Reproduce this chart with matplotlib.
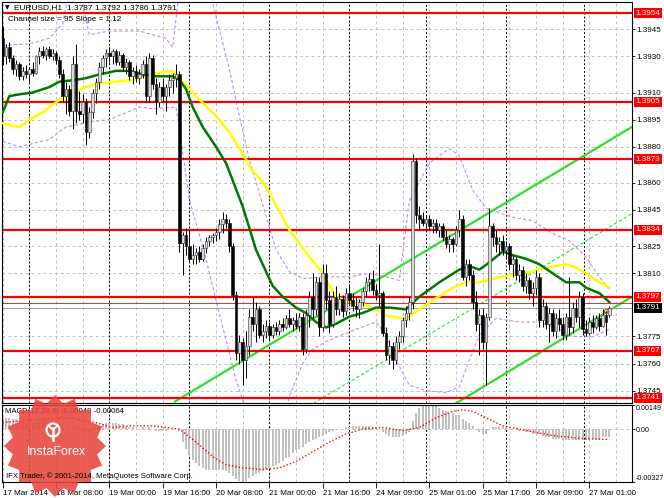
import numpy as np
import matplotlib
matplotlib.use("Agg")
import matplotlib.pyplot as plt
import matplotlib.transforms as mtransforms
from matplotlib.patches import Polygon, Circle

plt.rcParams['font.family'] = ['Liberation Sans', 'DejaVu Sans']

# EURUSD H1, bar 0 = 17 Mar 2014 (one bar per hour)
opens = [1.3940, 1.3930, 1.3935, 1.3929, 1.3923, 1.3926, 1.3919, 1.3922, 1.3920, 1.3923,
         1.3921, 1.3930, 1.3933, 1.3931, 1.3934, 1.3930, 1.3932, 1.3928, 1.3920, 1.3908,
         1.3912, 1.3900, 1.3926, 1.3900, 1.3898, 1.3905, 1.3888, 1.3899, 1.3910, 1.3916,
         1.3924, 1.3929, 1.3932, 1.3930, 1.3933, 1.3927, 1.3931, 1.3924, 1.3927, 1.3919,
         1.3922, 1.3918, 1.3920, 1.3926, 1.3908, 1.3929, 1.3915, 1.3905, 1.3913, 1.3908,
         1.3913, 1.3917, 1.3918, 1.3920, 1.3827, 1.3831, 1.3825, 1.3818, 1.3820, 1.3822,
         1.3818, 1.3824, 1.3828, 1.3830, 1.3831, 1.3833, 1.3837, 1.3840, 1.3838, 1.3825,
         1.3798, 1.3766, 1.3772, 1.3762, 1.3770, 1.3786, 1.3782, 1.3790, 1.3776, 1.3778,
         1.3781, 1.3776, 1.3780, 1.3778, 1.3782, 1.3780, 1.3785, 1.3782, 1.3784, 1.3781,
         1.3786, 1.3768, 1.3787, 1.3797, 1.3790, 1.3805, 1.3780, 1.3810, 1.3795, 1.3782,
         1.3797, 1.3790, 1.3796, 1.3789, 1.3799, 1.3795, 1.3792, 1.3790, 1.3794, 1.3800,
         1.3805, 1.3807, 1.3801, 1.3798, 1.3799, 1.3777, 1.3765, 1.3770, 1.3762, 1.3772,
         1.3775, 1.3784, 1.3788, 1.3794, 1.3872, 1.3842, 1.3840, 1.3838, 1.3840, 1.3836,
         1.3838, 1.3834, 1.3836, 1.3830, 1.3826, 1.3829, 1.3826, 1.3834, 1.3840, 1.3808,
         1.3815, 1.3809, 1.3794, 1.3782, 1.3787, 1.3772, 1.3786, 1.3836, 1.3830, 1.3826,
         1.3828, 1.3823, 1.3825, 1.3815, 1.3818, 1.3809, 1.3812, 1.3803, 1.3806, 1.3799,
         1.3802, 1.3808, 1.3784, 1.3792, 1.3782, 1.3788, 1.3778, 1.3785, 1.3782, 1.3776,
         1.3786, 1.3780, 1.3791, 1.3786, 1.3797, 1.3779, 1.3777, 1.3783, 1.3780, 1.3785,
         1.3781, 1.3787, 1.3787]
highs = [1.3947, 1.3937, 1.3938, 1.3931, 1.3928, 1.3927, 1.3924, 1.3925, 1.3924, 1.3927,
         1.3931, 1.3935, 1.3936, 1.3935, 1.3936, 1.3934, 1.3933, 1.3930, 1.3923, 1.3916,
         1.3914, 1.3930, 1.3937, 1.3911, 1.3909, 1.3907, 1.3902, 1.3912, 1.3918, 1.3927,
         1.3931, 1.3934, 1.3935, 1.3934, 1.3934, 1.3933, 1.3932, 1.3929, 1.3928, 1.3924,
         1.3925, 1.3923, 1.3928, 1.3930, 1.3932, 1.3931, 1.3918, 1.3916, 1.3918, 1.3915,
         1.3920, 1.3921, 1.3926, 1.3922, 1.3833, 1.3835, 1.3834, 1.3826, 1.3824, 1.3825,
         1.3826, 1.3830, 1.3831, 1.3832, 1.3835, 1.3840, 1.3844, 1.3843, 1.3840, 1.3827,
         1.3800, 1.3776, 1.3774, 1.3778, 1.3790, 1.3797, 1.3794, 1.3792, 1.3782, 1.3784,
         1.3783, 1.3782, 1.3783, 1.3784, 1.3785, 1.3787, 1.3790, 1.3786, 1.3788, 1.3788,
         1.3788, 1.3790, 1.3800, 1.3810, 1.3808, 1.3808, 1.3815, 1.3815, 1.3800, 1.3800,
         1.3803, 1.3799, 1.3798, 1.3802, 1.3804, 1.3799, 1.3797, 1.3796, 1.3802, 1.3808,
         1.3810, 1.3812, 1.3804, 1.3826, 1.3800, 1.3780, 1.3773, 1.3772, 1.3775, 1.3778,
         1.3786, 1.3792, 1.3797, 1.3876, 1.3874, 1.3847, 1.3844, 1.3842, 1.3842, 1.3840,
         1.3840, 1.3838, 1.3838, 1.3834, 1.3831, 1.3830, 1.3836, 1.3845, 1.3842, 1.3818,
         1.3818, 1.3812, 1.3800, 1.3790, 1.3791, 1.3788, 1.3846, 1.3838, 1.3834, 1.3830,
         1.3831, 1.3828, 1.3827, 1.3820, 1.3819, 1.3815, 1.3814, 1.3810, 1.3808, 1.3805,
         1.3812, 1.3810, 1.3796, 1.3794, 1.3791, 1.3790, 1.3788, 1.3790, 1.3786, 1.3788,
         1.3808, 1.3794, 1.3796, 1.3800, 1.3799, 1.3784, 1.3786, 1.3787, 1.3787, 1.3788,
         1.3790, 1.3789, 1.3792]
lows = [1.3925, 1.3926, 1.3927, 1.3920, 1.3919, 1.3917, 1.3917, 1.3918, 1.3916, 1.3919,
        1.3920, 1.3926, 1.3929, 1.3928, 1.3929, 1.3928, 1.3926, 1.3918, 1.3905, 1.3898,
        1.3897, 1.3890, 1.3893, 1.3895, 1.3893, 1.3881, 1.3885, 1.3896, 1.3904, 1.3912,
        1.3920, 1.3924, 1.3927, 1.3926, 1.3925, 1.3925, 1.3922, 1.3920, 1.3917, 1.3915,
        1.3916, 1.3915, 1.3918, 1.3905, 1.3905, 1.3912, 1.3898, 1.3902, 1.3905, 1.3900,
        1.3908, 1.3910, 1.3913, 1.3822, 1.3809, 1.3820, 1.3816, 1.3815, 1.3815, 1.3816,
        1.3817, 1.3821, 1.3825, 1.3827, 1.3828, 1.3829, 1.3832, 1.3835, 1.3822, 1.3795,
        1.3762, 1.3760, 1.3748, 1.3752, 1.3765, 1.3778, 1.3772, 1.3774, 1.3772, 1.3774,
        1.3773, 1.3774, 1.3776, 1.3776, 1.3778, 1.3779, 1.3780, 1.3778, 1.3779, 1.3778,
        1.3765, 1.3766, 1.3780, 1.3785, 1.3787, 1.3775, 1.3778, 1.3790, 1.3777, 1.3780,
        1.3787, 1.3787, 1.3786, 1.3787, 1.3793, 1.3789, 1.3786, 1.3785, 1.3792, 1.3797,
        1.3800, 1.3798, 1.3795, 1.3792, 1.3775, 1.3762, 1.3760, 1.3757, 1.3760, 1.3768,
        1.3772, 1.3780, 1.3784, 1.3790, 1.3838, 1.3834, 1.3836, 1.3834, 1.3834, 1.3832,
        1.3832, 1.3830, 1.3828, 1.3824, 1.3822, 1.3822, 1.3825, 1.3830, 1.3806, 1.3803,
        1.3806, 1.3790, 1.3778, 1.3765, 1.3768, 1.3748, 1.3784, 1.3825, 1.3822, 1.3820,
        1.3820, 1.3818, 1.3812, 1.3808, 1.3806, 1.3805, 1.3800, 1.3799, 1.3796, 1.3792,
        1.3798, 1.3780, 1.3780, 1.3779, 1.3772, 1.3775, 1.3774, 1.3778, 1.3773, 1.3773,
        1.3776, 1.3777, 1.3783, 1.3780, 1.3776, 1.3775, 1.3776, 1.3777, 1.3779, 1.3778,
        1.3780, 1.3776, 1.3786]
closes = [1.3930, 1.3935, 1.3929, 1.3923, 1.3926, 1.3919, 1.3922, 1.3920, 1.3923, 1.3921,
          1.3930, 1.3933, 1.3931, 1.3934, 1.3930, 1.3932, 1.3928, 1.3920, 1.3908, 1.3912,
          1.3900, 1.3926, 1.3900, 1.3898, 1.3905, 1.3888, 1.3899, 1.3910, 1.3916, 1.3924,
          1.3929, 1.3932, 1.3930, 1.3933, 1.3927, 1.3931, 1.3924, 1.3927, 1.3919, 1.3922,
          1.3918, 1.3920, 1.3926, 1.3908, 1.3929, 1.3915, 1.3905, 1.3913, 1.3908, 1.3913,
          1.3917, 1.3918, 1.3920, 1.3827, 1.3831, 1.3825, 1.3818, 1.3820, 1.3822, 1.3818,
          1.3824, 1.3828, 1.3830, 1.3831, 1.3833, 1.3837, 1.3840, 1.3838, 1.3825, 1.3798,
          1.3766, 1.3772, 1.3762, 1.3770, 1.3786, 1.3782, 1.3790, 1.3776, 1.3778, 1.3781,
          1.3776, 1.3780, 1.3778, 1.3782, 1.3780, 1.3785, 1.3782, 1.3784, 1.3781, 1.3786,
          1.3768, 1.3787, 1.3797, 1.3790, 1.3805, 1.3780, 1.3810, 1.3795, 1.3782, 1.3797,
          1.3790, 1.3796, 1.3789, 1.3799, 1.3795, 1.3792, 1.3790, 1.3794, 1.3800, 1.3805,
          1.3807, 1.3801, 1.3798, 1.3799, 1.3777, 1.3765, 1.3770, 1.3762, 1.3772, 1.3775,
          1.3784, 1.3788, 1.3794, 1.3872, 1.3842, 1.3840, 1.3838, 1.3840, 1.3836, 1.3838,
          1.3834, 1.3836, 1.3830, 1.3826, 1.3829, 1.3826, 1.3834, 1.3840, 1.3808, 1.3815,
          1.3809, 1.3794, 1.3782, 1.3787, 1.3772, 1.3786, 1.3836, 1.3830, 1.3826, 1.3828,
          1.3823, 1.3825, 1.3815, 1.3818, 1.3809, 1.3812, 1.3803, 1.3806, 1.3799, 1.3802,
          1.3808, 1.3784, 1.3792, 1.3782, 1.3788, 1.3778, 1.3785, 1.3782, 1.3776, 1.3786,
          1.3780, 1.3791, 1.3786, 1.3797, 1.3779, 1.3777, 1.3783, 1.3780, 1.3785, 1.3781,
          1.3787, 1.3783, 1.3791]

# moving averages (bar, price)
ma_green_x = [0, 2, 5, 9, 14, 17, 22, 25, 29, 34, 38, 42, 46, 51, 53, 55, 57, 60, 64, 67,
              72, 76, 81, 84, 88, 91, 94, 97, 100, 104, 108, 112, 116, 121, 125, 131, 137,
              140, 143, 146, 150, 153, 157, 161, 165, 169, 173, 175, 179, 182]
ma_green_y = [1.3899, 1.3908, 1.3909, 1.3910, 1.3913, 1.3916, 1.3917, 1.3918, 1.3920, 1.3922,
              1.3922, 1.3920, 1.3919, 1.3919, 1.3917, 1.3912, 1.3902, 1.3891, 1.3880, 1.3871,
              1.3847, 1.3823, 1.3803, 1.3797, 1.3791, 1.3788, 1.3783, 1.3780, 1.3782, 1.3786,
              1.3788, 1.3791, 1.3791, 1.3790, 1.3797, 1.3805, 1.3812, 1.3814, 1.3812, 1.3816,
              1.3822, 1.3820, 1.3818, 1.3815, 1.3810, 1.3805, 1.3805, 1.3802, 1.3799, 1.3794]
ma_yellow_x = [0, 2, 5, 8, 12, 17, 21, 25, 29, 34, 39, 43, 47, 51, 54, 58, 64, 68, 73, 74,
               79, 86, 92, 96, 98, 100, 104, 108, 112, 116, 121, 125, 129, 135, 139, 143,
               147, 153, 159, 163, 169, 171, 175, 179, 182]
ma_yellow_y = [1.3893, 1.3892, 1.3891, 1.3895, 1.3899, 1.3906, 1.3910, 1.3913, 1.3915, 1.3916,
               1.3917, 1.3919, 1.3921, 1.3922, 1.3916, 1.3908, 1.3897, 1.3888, 1.3873, 1.3869,
               1.3858, 1.3834, 1.3819, 1.3810, 1.3803, 1.3797, 1.3794, 1.3793, 1.3790, 1.3786,
               1.3785, 1.3790, 1.3795, 1.3802, 1.3805, 1.3805, 1.3807, 1.3809, 1.3811, 1.3813,
               1.3815, 1.3814, 1.3810, 1.3805, 1.3802]

# envelope bands (violet dashed)
band_up_x = [0, 8, 14, 18, 20, 23, 26, 32, 41, 49, 51, 53, 62, 65, 68, 71, 74, 78, 82, 86,
             90, 96, 104, 110, 115, 119, 122, 128, 134, 137, 141, 145, 153, 159, 165, 170,
             175, 179, 182]
band_up_y = [1.3936, 1.3937, 1.3940, 1.3948, 1.3967, 1.3967, 1.3942, 1.3944, 1.3944, 1.3940,
             1.3935, 1.3967, 1.3967, 1.3945, 1.3923, 1.3897, 1.3873, 1.3848, 1.3823, 1.3811,
             1.3807, 1.3808, 1.3808, 1.3810, 1.3808, 1.3806, 1.3850, 1.3871, 1.3879, 1.3875,
             1.3856, 1.3846, 1.3841, 1.3839, 1.3832, 1.3828, 1.3819, 1.3808, 1.3801]
band_dn_x = [0, 5, 14, 19, 27, 32, 41, 45, 52, 53, 56, 61, 64, 67, 70, 73, 85, 86, 90, 93,
             98, 102, 106, 112, 115, 118, 122, 127, 133, 137, 140, 143, 148, 155, 161, 167,
             171, 177, 182]
band_dn_y = [1.3883, 1.3880, 1.3884, 1.3891, 1.3894, 1.3895, 1.3902, 1.3901, 1.3902, 1.3890,
             1.3851, 1.3818, 1.3795, 1.3773, 1.3751, 1.3734, 1.3734, 1.3742, 1.3760, 1.3768,
             1.3773, 1.3776, 1.3779, 1.3783, 1.3776, 1.3762, 1.3748, 1.3745, 1.3744, 1.3747,
             1.3762, 1.3776, 1.3785, 1.3783, 1.3783, 1.3779, 1.3775, 1.3775, 1.3779]

# regression channel endpoints (bar, price)
chan_upper = [(51.7, 1.3739), (188.8, 1.3891)]
chan_mid = [(93.2, 1.3738), (188.8, 1.3843)]
chan_lower = [(136.0, 1.3738), (188.8, 1.3797)]

levels = [1.3954, 1.3905, 1.3873, 1.3834, 1.3797, 1.3767, 1.3741]
bid = 1.3791
ask = 1.37938
price_ticks = [1.3945, 1.3930, 1.3910, 1.3895, 1.3880, 1.3860, 1.3845, 1.3825, 1.3810,
               1.3775, 1.3760, 1.3745]

# MACD(12,26,9)
macd_hist = [0.0006, 0.0007, 0.0007, 0.0006, 0.0006, 0.0005, 0.0005, 0.0004, 0.0004, 0.0004,
             0.0004, 0.0005, 0.0005, 0.0005, 0.0004, 0.0004, 0.0003, 0.0002, 0.0001, 0.0000,
             -0.0001, 0.0000, 0.0001, 0.0000, -0.0001, -0.0002, -0.0002, -0.0001, 0.0001, 0.0002,
             0.0003, 0.0004, 0.0004, 0.0004, 0.0004, 0.0003, 0.0003, 0.0002, 0.0001, 0.0001,
             0.0000, 0.0000, 0.0001, 0.0000, 0.0001, 0.0000, -0.0001, -0.0001, -0.0001, -0.0001,
             0.0000, 0.0000, 0.0000, -0.0001, -0.0008, -0.0012, -0.0016, -0.0019, -0.0021, -0.0023,
             -0.0024, -0.0025, -0.0025, -0.0025, -0.0025, -0.0025, -0.0025, -0.0026, -0.0027, -0.0029,
             -0.0031, -0.0032, -0.00327, -0.0032, -0.0030, -0.0029, -0.0028, -0.0027, -0.0026, -0.0025,
             -0.0024, -0.0023, -0.0022, -0.0021, -0.0020, -0.0018, -0.0017, -0.0015, -0.0013, -0.0012,
             -0.0011, -0.0009, -0.0008, -0.0007, -0.0006, -0.0005, -0.0004, -0.0003, -0.0002, -0.0001,
             0.0000, 0.0000, 0.0000, 0.0001, 0.0001, 0.0002, 0.0002, 0.0002, 0.0002, 0.0002,
             0.0002, 0.0001, 0.0001, 0.0000, -0.0002, -0.0003, -0.0004, -0.0005, -0.0005, -0.0005,
             -0.0004, -0.0003, -0.0002, 0.0005, 0.0010, 0.0013, 0.0014, 0.0014, 0.0015, 0.0014,
             0.0014, 0.0013, 0.0012, 0.0011, 0.0010, 0.0010, 0.0009, 0.0009, 0.0006, 0.0005,
             0.0004, 0.0002, 0.0000, -0.0002, -0.0003, -0.0003, 0.0000, 0.0001, 0.0001, 0.0001,
             0.0001, 0.0001, 0.0000, 0.0000, 0.0000, -0.0001, -0.0001, -0.0002, -0.0002, -0.0003,
             -0.0003, -0.0003, -0.0004, -0.0005, -0.0005, -0.0006, -0.0006, -0.0006, -0.0007, -0.0007,
             -0.0007, -0.0007, -0.0007, -0.0007, -0.0007, -0.0007, -0.0007, -0.0006, -0.0006, -0.0006,
             -0.0005, -0.0005, -0.0005]
sig_x = [0, 10, 20, 28, 33, 38, 45, 53, 58, 63, 67, 72, 78, 83, 88, 93, 98, 103, 108, 114,
         120, 125, 130, 135, 138, 141, 145, 150, 155, 160, 165, 170, 175, 182]
sig_y = [0.0004, 0.0006, 0.0007, 0.0004, 0.0001, 0.0002, 0.0002, 0.0000, -0.0008, -0.0017,
         -0.0022, -0.0024, -0.0025, -0.0024, -0.0020, -0.0014, -0.0008, -0.0003, 0.0000, 0.0001,
         -0.0001, 0.0001, 0.0007, 0.0011, 0.0012, 0.0011, 0.0007, 0.0002, 0.0000, -0.0002,
         -0.0004, -0.0005, -0.0006, -0.00064]

time_bars = [0, 16, 32, 48, 64, 80, 96, 112, 128, 144, 160, 176]
time_labels = ['17 Mar 2014', '18 Mar 08:00', '19 Mar 00:00', '19 Mar 16:00', '20 Mar 08:00',
               '21 Mar 00:00', '21 Mar 16:00', '24 Mar 09:00', '25 Mar 01:00', '25 Mar 17:00',
               '26 Mar 09:00', '27 Mar 01:00']
day_starts = [8, 32, 56, 80, 104, 127, 151, 174.5]

W, H = 664, 498
fig = plt.figure(figsize=(6.64, 4.98), dpi=100)
fig.patch.set_facecolor('white')
FS = 5.8


def box(x0, y0, x1, y1):
    return [x0 / W, 1 - y1 / H, (x1 - x0) / W, (y1 - y0) / H]


ax = fig.add_axes(box(2, 2, 632, 403))
axm = fig.add_axes(box(2, 405, 632, 482))

XL = (-0.2, 188.8)
for a in (ax, axm):
    a.set_xlim(*XL)
    for s in a.spines.values():
        s.set_linewidth(0.8)
        s.set_color('black')
    for gx in range(0, 189, 8):
        a.axvline(gx, color='#c0c0c0', lw=0.7, ls=(0, (3, 3)), zorder=0)
    for d in day_starts:
        a.axvline(d, color='black', lw=0.7, ls=(0, (2, 2)), zorder=0.5)

ax.set_ylim(1.37382, 1.39601)
for p in price_ticks:
    ax.axhline(p, color='#c0c0c0', lw=0.7, ls=(0, (3, 3)), zorder=0)

# bands
ax.plot(band_up_x, band_up_y, color='#c58af0', lw=0.8, ls=(0, (3, 2)), zorder=1)
ax.plot(band_dn_x, band_dn_y, color='#c58af0', lw=0.8, ls=(0, (3, 2)), zorder=1)

# channel
ax.plot(*zip(*chan_upper), color='#2ee02e', lw=1.6, zorder=2)
ax.plot(*zip(*chan_lower), color='#2ee02e', lw=1.6, zorder=2)
ax.plot(*zip(*chan_mid), color='#2ee02e', lw=0.8, ls=(0, (3, 2)), zorder=2)

# levels
for lv in levels:
    ax.axhline(lv, color='#ff0000', lw=1.6, zorder=2)
ax.axhline(ask, color='#ff0000', lw=0.6, zorder=2)
ax.axhline(bid, color='#a0a0a0', lw=0.7, zorder=2)

# moving averages
ax.plot(ma_yellow_x, ma_yellow_y, color='#ffff00', lw=1.8, zorder=3)
ax.plot(ma_green_x, ma_green_y, color='#007800', lw=1.8, zorder=3)

# candles
xs = np.arange(len(opens))
o = np.array(opens); c = np.array(closes)
ax.vlines(xs, lows, highs, color='black', lw=0.7, zorder=4)
up = c >= o
body = np.maximum(np.abs(c - o), 0.00004)
ax.bar(xs[up], body[up], bottom=o[up], width=0.75, color='#d8d8d8',
       edgecolor='#303030', linewidth=0.4, zorder=5)
ax.bar(xs[~up], body[~up], bottom=c[~up], width=0.75, color='black',
       edgecolor='black', linewidth=0.4, zorder=5)
ax.plot([xs[-2]], [1.3789], marker='o', ms=3, mfc='none', mec='#ff3030', mew=0.8, zorder=6)

ax.yaxis.tick_right()
ax.set_yticks(price_ticks)
ax.set_yticklabels(['%.4f' % p for p in price_ticks])
ax.tick_params(axis='y', length=2.2, width=0.6, labelsize=FS, pad=1.0)
ax.tick_params(axis='x', bottom=False, labelbottom=False)

tr = mtransforms.blended_transform_factory(ax.transAxes, ax.transData)
for lv in levels:
    ax.text(1.0055, lv, '%.4f' % lv, transform=tr, color='white', fontsize=FS,
            va='center', ha='left', zorder=10,
            bbox=dict(boxstyle='square,pad=0.18', fc='#ff0000', ec='none'), clip_on=False)
ax.text(1.0055, bid, '%.4f' % bid, transform=tr, color='white', fontsize=FS,
        va='center', ha='left', zorder=10,
        bbox=dict(boxstyle='square,pad=0.18', fc='black', ec='none'), clip_on=False)

# MACD panel
axm.set_ylim(-0.00327, 0.00149)
axm.axhline(0, color='#c0c0c0', lw=0.7, ls=(0, (3, 3)), zorder=0)
axm.bar(xs, macd_hist, width=0.55, color='#c0c0c0', zorder=2)
axm.plot(sig_x, sig_y, color='#ff0000', lw=1.0, ls=(0, (1, 1.5)), zorder=3)
axm.yaxis.tick_right()
axm.set_yticks([0.00149, 0.0, -0.00327])
axm.set_yticklabels(['0.00149', '0.00', '-0.00327'])
axm.tick_params(axis='y', length=2.0, width=0.6, labelsize=5.1, pad=0.6)
ylabs = axm.get_yticklabels()
ylabs[0].set_verticalalignment('top')
ylabs[2].set_verticalalignment('bottom')
axm.set_xticks(time_bars)
axm.set_xticklabels(time_labels)
for lab in axm.get_xticklabels():
    lab.set_horizontalalignment('left')
axm.tick_params(axis='x', length=4, width=0.6, labelsize=5.8, pad=1.5)

# overlay: texts and logo in pixel space
ov = fig.add_axes([0, 0, 1, 1])
ov.set_xlim(0, W)
ov.set_ylim(H, 0)
ov.axis('off')
ov.text(5, 8, '\u25bc', fontsize=4.2, va='center', ha='left', family='DejaVu Sans')
ov.text(14, 8, 'EURUSD,H1  1.3787 1.3792 1.3786 1.3791', fontsize=6.0, va='center', ha='left')
ov.text(8, 19.5, 'Channel size = 95 Slope = 1.12', fontsize=5.9, va='center', ha='left')
ov.text(5, 411, 'MACD(12,26,9) -0.00049 -0.00064', fontsize=5.6, va='center', ha='left')

n = 16
ang = np.linspace(0, 2 * np.pi, 2 * n, endpoint=False) - np.pi / 2
rad = np.where(np.arange(2 * n) % 2 == 0, 51, 43)
cx, cy = 55, 446
star = np.column_stack([cx + rad * np.cos(ang), cy + rad * np.sin(ang)])
ov.add_patch(Polygon(star, closed=True, fc='#e8453c', ec='none', alpha=0.88, zorder=5))
ov.add_patch(Circle((53, 430), 6.5, fc='none', ec='white', lw=1.6, zorder=6))
ov.plot([53, 53], [428, 440], color='white', lw=1.8, zorder=6)
ov.plot([49, 53, 57], [426, 430, 426], color='white', lw=1.4, zorder=6)
ov.text(57, 452, 'InstaForex', color='white', fontsize=9.0, ha='center', va='center', zorder=6)
ov.text(6, 476, 'IFX Trader, \u00a9 2001-2014, MetaQuotes Software Corp.', fontsize=5.6,
        ha='left', va='center', zorder=7)

fig.savefig('out.png', dpi=100, facecolor='white')
